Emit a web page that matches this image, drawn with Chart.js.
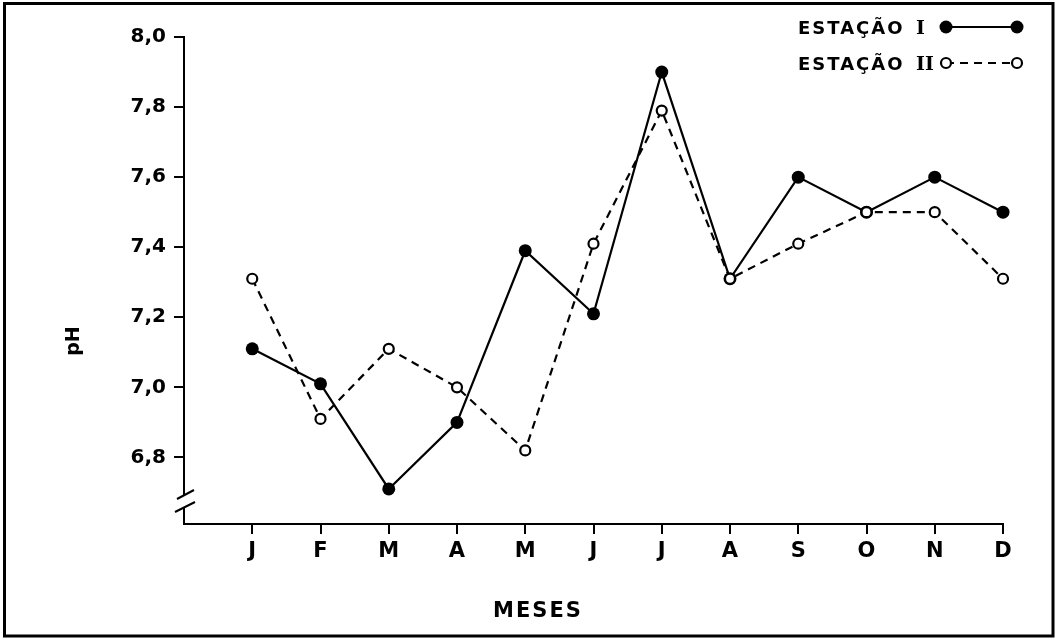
<!DOCTYPE html>
<html>
<head>
<meta charset="utf-8">
<script src="https://cdn.jsdelivr.net/npm/chart.js@4.4.0/dist/chart.umd.min.js"></script>
<style>
  html, body { margin: 0; padding: 0; background: #fff; }
  #wrap { width: 1058px; height: 644px; position: relative; }
</style>
</head>
<body>
<div id="wrap"><canvas id="c" width="1058" height="644"></canvas></div>
<script>
// Monthly pH at two stations
const months = ['J', 'F', 'M', 'A', 'M', 'J', 'J', 'A', 'S', 'O', 'N', 'D'];
const estacaoI  = [7.11, 7.01, 6.71, 6.90, 7.39, 7.21, 7.90, 7.31, 7.60, 7.50, 7.60, 7.50];
const estacaoII = [7.31, 6.91, 7.11, 7.00, 6.82, 7.41, 7.79, 7.31, 7.41, 7.50, 7.50, 7.31];
const yTickValues = [6.8, 7.0, 7.2, 7.4, 7.6, 7.8, 8.0];
const yTickLabels = ['6,8', '7,0', '7,2', '7,4', '7,6', '7,8', '8,0'];
const seriesLabels = ['ESTAÇÃO I', 'ESTAÇÃO II'];
const xTitle = 'MESES';
const yTitle = 'pH';

const SANS = '"DejaVu Sans", "Liberation Sans", sans-serif';
const SERIF = '"DejaVu Serif", "Liberation Serif", serif';

// frame, axis titles, broken-axis mark and the key in the upper right
const decorations = {
  id: 'decorations',
  afterDraw(chart) {
    const { ctx, chartArea: a } = chart;
    const axisX = a.left;
    const b = a.bottom;
    ctx.save();

    // outer frame
    ctx.strokeStyle = '#000';
    ctx.lineWidth = 3;
    ctx.strokeRect(4.5, 3.5, 1048.5, 632.5);

    // broken y axis
    ctx.fillStyle = '#fff';
    ctx.fillRect(axisX - 3, b - 29, 6, 13);
    ctx.lineWidth = 2;
    ctx.beginPath();
    ctx.moveTo(axisX - 7, b - 25); ctx.lineTo(axisX + 10, b - 34);
    ctx.moveTo(axisX - 9, b - 12); ctx.lineTo(axisX + 11, b - 22);
    ctx.stroke();

    // axis titles
    ctx.fillStyle = '#000';
    ctx.font = 'bold 19px ' + SANS;
    ctx.textAlign = 'center';
    ctx.textBaseline = 'middle';
    ctx.save();
    ctx.translate(axisX - 110, a.top + 304);
    ctx.rotate(-Math.PI / 2);
    ctx.fillText(yTitle, 0, 0);
    ctx.restore();

    ctx.font = 'bold 21px ' + SANS;
    ctx.letterSpacing = '2px';
    ctx.fillText(xTitle, 538, b + 88);
    ctx.letterSpacing = '0px';

    // key
    const rowY = [27, 63];
    chart.data.datasets.forEach((ds, i) => {
      const y = rowY[i];
      const [word, numeral] = ds.label.split(' ');
      ctx.fillStyle = '#000';
      ctx.textAlign = 'left';
      ctx.textBaseline = 'alphabetic';
      ctx.font = 'bold 18px ' + SANS;
      ctx.letterSpacing = '2px';
      ctx.fillText(word, 798, y + 7);
      ctx.letterSpacing = '0px';
      ctx.font = 'bold 19px ' + SERIF;
      ctx.fillText(numeral, 916, y + 7);

      ctx.strokeStyle = ds.borderColor;
      ctx.lineWidth = ds.borderWidth;
      ctx.setLineDash(ds.borderDash || []);
      ctx.beginPath();
      ctx.moveTo(946, y); ctx.lineTo(1017, y);
      ctx.stroke();
      ctx.setLineDash([]);
      [946, 1017].forEach(px => {
        ctx.beginPath();
        ctx.arc(px, y, ds.pointRadius, 0, Math.PI * 2);
        ctx.fillStyle = ds.pointBackgroundColor;
        ctx.fill();
        if (ds.pointBorderWidth) {
          ctx.lineWidth = ds.pointBorderWidth;
          ctx.strokeStyle = ds.pointBorderColor;
          ctx.stroke();
        }
      });
    });
    ctx.restore();
  }
};

const toPoints = arr => arr.map((v, i) => ({ x: i, y: v }));

new Chart(document.getElementById('c'), {
  type: 'line',
  data: {
    datasets: [
      {
        label: seriesLabels[0],
        data: toPoints(estacaoI),
        borderColor: '#000',
        borderWidth: 2.2,
        pointRadius: 6.5,
        pointBackgroundColor: '#000',
        pointBorderColor: '#000',
        pointBorderWidth: 0,
        tension: 0,
        clip: false,
        order: 1
      },
      {
        label: seriesLabels[1],
        data: toPoints(estacaoII),
        borderColor: '#000',
        borderWidth: 2.2,
        borderDash: [8, 6],
        pointRadius: 5,
        pointBackgroundColor: '#fff',
        pointBorderColor: '#000',
        pointBorderWidth: 2.2,
        tension: 0,
        clip: false,
        order: 0
      }
    ]
  },
  options: {
    responsive: false,
    animation: false,
    layout: { padding: { top: 37, right: 55, bottom: 0, left: 0 } },
    plugins: { legend: { display: false }, tooltip: { enabled: false } },
    scales: {
      x: {
        type: 'linear',
        min: -1,
        max: months.length - 1,
        afterBuildTicks: s => { s.ticks = months.map((_, i) => ({ value: i })); },
        afterFit: s => { s.height = 120; },
        grid: { drawOnChartArea: false, drawTicks: true, tickLength: 10, color: '#000', lineWidth: 2 },
        border: { display: true, color: '#000', width: 2 },
        ticks: {
          autoSkip: false,
          maxRotation: 0,
          padding: 5,
          color: '#000',
          font: { family: SANS, weight: 'bold', size: 21 },
          callback: (v, i) => months[i]
        }
      },
      y: {
        type: 'linear',
        min: 6.61,
        max: 8.0,
        afterBuildTicks: s => { s.ticks = yTickValues.map(v => ({ value: v })); },
        afterFit: s => { s.width = 184; },
        grid: { drawOnChartArea: false, drawTicks: true, tickLength: 10, color: '#000', lineWidth: 2 },
        border: { display: true, color: '#000', width: 2 },
        ticks: {
          padding: 8,
          color: '#000',
          font: { family: SANS, weight: 'bold', size: 20 },
          callback: (v, i) => yTickLabels[i]
        }
      }
    }
  },
  plugins: [decorations]
});
</script>
</body>
</html>
